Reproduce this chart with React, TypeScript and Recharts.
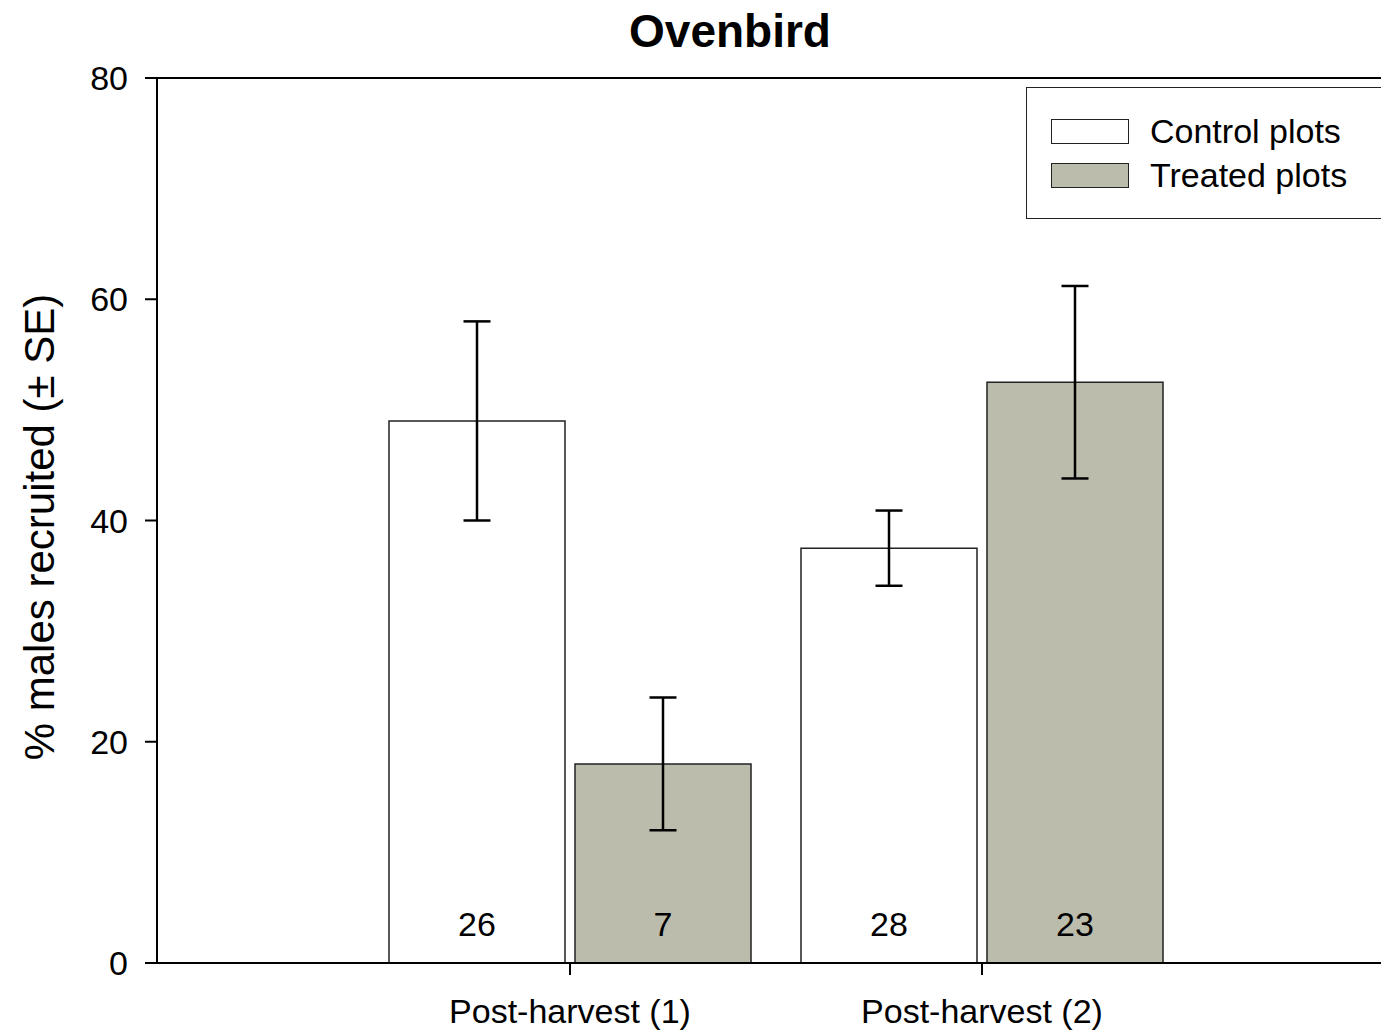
import {
  BarChart,
  Bar,
  XAxis,
  YAxis,
  ErrorBar,
  LabelList,
  ReferenceLine,
} from "recharts";

const categories = ["Post-harvest (1)", "Post-harvest (2)"];
const controlMeans = [49, 37.5];
const controlSE = [9, 3.4];
const treatedMeans = [18, 52.5];
const treatedSE = [6, 8.7];
const controlN = [26, 28];
const treatedN = [7, 23];
const yTicks = [0, 20, 40, 60, 80];

const FONT = '"Liberation Sans", Arial, sans-serif';
const TREATED = "#bbbcab";

const data = categories.map((c, i) => ({
  name: c,
  control: controlMeans[i],
  controlErr: controlSE[i],
  controlN: controlN[i],
  treated: treatedMeans[i],
  treatedErr: treatedSE[i],
  treatedN: treatedN[i],
}));

const tick = { fontSize: 34, fill: "#000", fontFamily: FONT };

function YLabel() {
  return (
    <text
      x={54}
      y={527}
      transform="rotate(-90 54 527)"
      textAnchor="middle"
      fontSize={42}
      fontFamily={FONT}
      fill="#000"
    >
      % males recruited (± SE)
    </text>
  );
}

function LegendBox() {
  const row = (fill: string, label: string, top: number) => (
    <div style={{ position: "absolute", left: 24, top, display: "flex", alignItems: "center" }}>
      <div style={{ width: 76, height: 23, background: fill, border: "1.5px solid #222" }} />
      <span style={{ marginLeft: 21, fontSize: 34, fontFamily: FONT, lineHeight: "34px" }}>{label}</span>
    </div>
  );
  return (
    <div
      style={{
        position: "absolute",
        left: 1026,
        top: 87,
        width: 360,
        height: 132,
        border: "1.5px solid #222",
        background: "#fff",
        boxSizing: "border-box",
      }}
    >
      {row("#fff", "Control plots", 26)}
      {row(TREATED, "Treated plots", 70)}
    </div>
  );
}

export default function App() {
  return (
    <div style={{ position: "absolute", left: 0, top: 0, width: 1381, height: 1035, overflow: "hidden", background: "#fff" }}>
      <div
        style={{
          position: "absolute",
          left: 0,
          top: 4,
          width: 1460,
          textAlign: "center",
          fontFamily: FONT,
          fontWeight: "bold",
          fontSize: 46,
        }}
      >
        Ovenbird
      </div>
      <BarChart
        width={1381}
        height={1035}
        data={data}
        margin={{ top: 78, right: 0, left: 0, bottom: 0 }}
        barSize={176}
        barGap={10}
      >
        <XAxis
          dataKey="name"
          height={72}
          padding={{ left: 207, right: 193 }}
          tick={tick}
          tickSize={12}
          tickMargin={24}
          axisLine={{ stroke: "#000", strokeWidth: 2 }}
          tickLine={{ stroke: "#000", strokeWidth: 2 }}
        />
        <YAxis
          width={157}
          domain={[0, 80]}
          ticks={yTicks}
          tick={tick}
          tickSize={12}
          tickMargin={17}
          axisLine={{ stroke: "#000", strokeWidth: 2 }}
          tickLine={{ stroke: "#000", strokeWidth: 2 }}
          label={<YLabel />}
        />
        <ReferenceLine y={80} stroke="#000" strokeWidth={2} />
        <Bar dataKey="control" fill="#fff" stroke="#222" strokeWidth={1.5} isAnimationActive={false}>
          <ErrorBar dataKey="controlErr" width={13.5} stroke="#000" strokeWidth={2.5} direction="y" />
          <LabelList dataKey="controlN" position="insideBottom" offset={27} style={tick} />
        </Bar>
        <Bar dataKey="treated" fill={TREATED} stroke="#222" strokeWidth={1.5} isAnimationActive={false}>
          <ErrorBar dataKey="treatedErr" width={13.5} stroke="#000" strokeWidth={2.5} direction="y" />
          <LabelList dataKey="treatedN" position="insideBottom" offset={27} style={tick} />
        </Bar>
      </BarChart>
      <LegendBox />
    </div>
  );
}
